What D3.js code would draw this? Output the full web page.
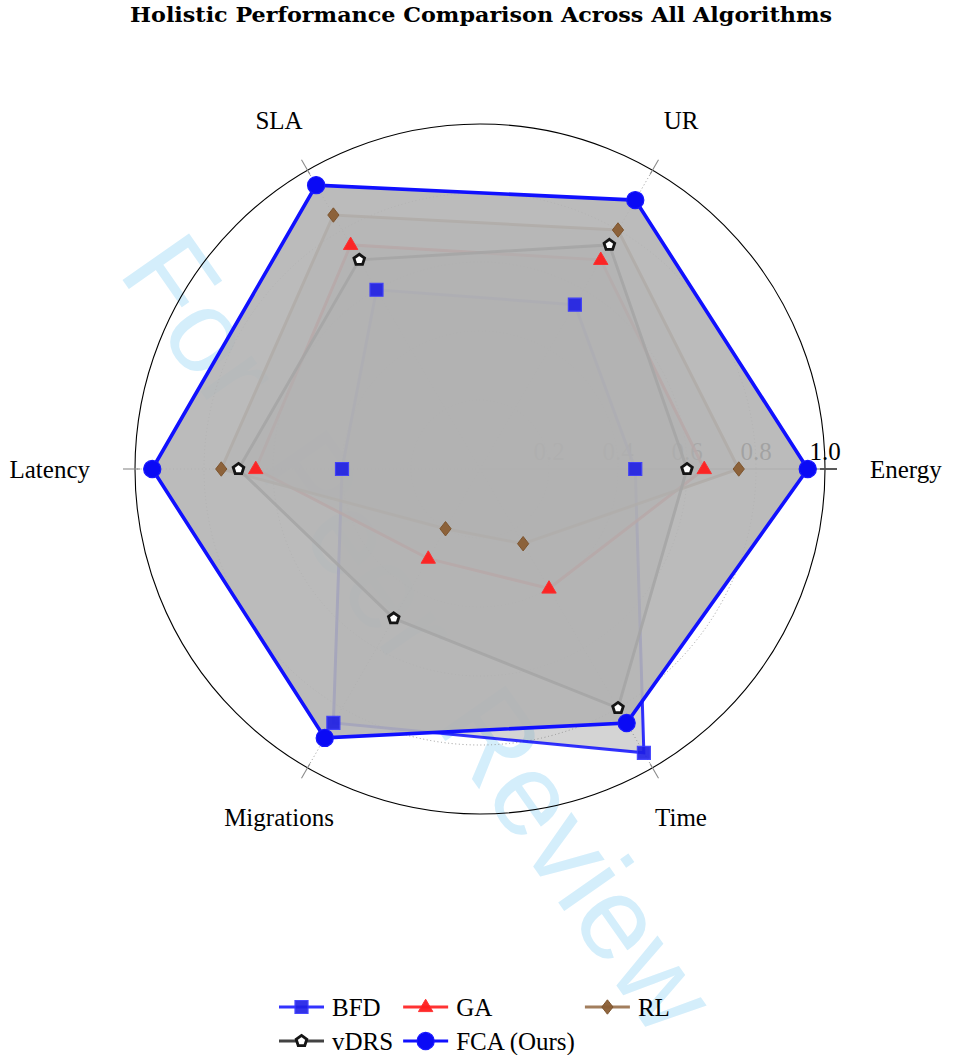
<!DOCTYPE html>
<html>
<head>
<meta charset="utf-8">
<script src="https://cdn.jsdelivr.net/npm/d3@7"></script>
<style>
  html, body { margin: 0; padding: 0; background: #ffffff; }
  svg { display: block; }
</style>
</head>
<body>
<svg id="chart" width="960" height="1055"></svg>
<script>
// ---- data ----
const axes = ["Energy", "UR", "SLA", "Latency", "Migrations", "Time"];
const seriesNames = ["BFD", "GA", "RL", "vDRS", "FCA (Ours)"];
const bfdValues  = [0.45, 0.55, 0.60, 0.40, 0.85, 0.95];
const gaValues   = [0.65, 0.70, 0.75, 0.65, 0.30, 0.40];
const rlValues   = [0.75, 0.80, 0.85, 0.75, 0.20, 0.25];
const vdrsValues = [0.60, 0.75, 0.70, 0.70, 0.50, 0.80];
const fcaValues  = [0.95, 0.90, 0.95, 0.95, 0.90, 0.85];
const radialTicks = [0.2, 0.4, 0.6, 0.8, 1.0];
const radialTickLabels = ["0.2", "0.4", "0.6", "0.8", "1.0"];
const titleText = "Holistic Performance Comparison Across All Algorithms";
const watermarkText = "For Peer Review";

const seriesValues = [bfdValues, gaValues, rlValues, vdrsValues, fcaValues];

// ---- styles ----
const styles = [
  { stroke: "#0000ff", strokeOpacity: 0.8, width: 3,   fill: "#939393", fillOpacity: 0.4, marker: "square",   mFill: "#1e1ee6", mStroke: "#3535ff", mStrokeW: 1.2, mOpacity: 0.9 },
  { stroke: "#ff0000", strokeOpacity: 0.8, width: 3,   fill: "#939393", fillOpacity: 0.4, marker: "triangle", mFill: "#ff1e1e", mStroke: "#ff2a2a", mStrokeW: 1,   mOpacity: 0.95 },
  { stroke: "#8b5e34", strokeOpacity: 0.8, width: 3,   fill: "#939393", fillOpacity: 0.4, marker: "diamond",  mFill: "#8b5e34", mStroke: "#7a5028", mStrokeW: 1,   mOpacity: 0.95 },
  { stroke: "#222222", strokeOpacity: 0.85, width: 3,  fill: "#939393", fillOpacity: 0.4, marker: "pentagon", mFill: "#ffffff", mStroke: "#151515", mStrokeW: 2.8, mOpacity: 1 },
  { stroke: "#1010ff", strokeOpacity: 1,   width: 3.6, fill: "#b4b4b4", fillOpacity: 0.9, marker: "circle",   mFill: "#0a0af5", mStroke: "#1818ff", mStrokeW: 1.2, mOpacity: 1 }
];

const W = 960, H = 1055;
const cx = 480, cy = 469;
const serif = "'Liberation Serif', 'Times New Roman', serif";

const svg = d3.select("#chart");

// radial and angular scales
const r = d3.scaleLinear().domain([0, 1]).range([0, 345]);
const angle = d3.scaleLinear().domain([0, axes.length]).range([Math.PI / 2, Math.PI / 2 - 2 * Math.PI]);

// ---- watermark (bottom layer) ----
svg.append("text")
  .attr("transform", "translate(117,272) rotate(55)")
  .attr("font-family", "'Liberation Sans', Arial, sans-serif")
  .attr("font-size", 118)
  .attr("word-spacing", 30)
  .attr("fill", "#d4eefb")
  .text(watermarkText);

// ---- title ----
svg.append("text")
  .attr("x", 481).attr("y", 22)
  .attr("text-anchor", "middle")
  .attr("font-family", "'DejaVu Serif', serif")
  .attr("font-weight", "bold")
  .attr("font-size", 20)
  .attr("textLength", 702)
  .attr("lengthAdjust", "spacingAndGlyphs")
  .attr("fill", "#000")
  .text(titleText);

const g = svg.append("g").attr("transform", `translate(${cx},${cy})`);

// ---- grid ----
const grid = g.append("g");
radialTicks.filter(t => t < 1).forEach(t => {
  grid.append("circle").attr("r", r(t))
    .attr("fill", "none").attr("stroke", "#9a9a9a").attr("stroke-width", 1)
    .attr("stroke-dasharray", "1,2.6");
});
axes.forEach((a, i) => {
  if (i === 0) return;
  const p = d3.pointRadial(angle(i), r(1));
  grid.append("line").attr("x1", 0).attr("y1", 0).attr("x2", p[0]).attr("y2", p[1])
    .attr("stroke", "#9a9a9a").attr("stroke-width", 1).attr("stroke-dasharray", "1,2.6");
});
// outer boundary
grid.append("circle").attr("r", r(1))
  .attr("fill", "none").attr("stroke", "#000").attr("stroke-width", 1.1);
// radial axis along the Energy direction
{
  const pEnd = d3.pointRadial(angle(0), r(1) + 12);
  grid.append("line").attr("x1", 0).attr("y1", 0).attr("x2", pEnd[0]).attr("y2", pEnd[1])
    .attr("stroke", "#9a9a9a").attr("stroke-width", 1.3);
}
// tick marks at each axis, crossing the outer circle
axes.forEach((a, i) => {
  const p0 = d3.pointRadial(angle(i), r(1) - 5);
  const p1 = d3.pointRadial(angle(i), r(1) + 12);
  grid.append("line").attr("x1", p0[0]).attr("y1", p0[1]).attr("x2", p1[0]).attr("y2", p1[1])
    .attr("stroke", i === 0 ? "#333" : "#8a8a8a").attr("stroke-width", i === 0 ? 1.4 : 1.1);
});

// radial tick labels
radialTicks.forEach((t, k) => {
  const p = d3.pointRadial(angle(0), r(t));
  g.append("text")
    .attr("x", p[0]).attr("y", p[1] - 9)
    .attr("text-anchor", "middle")
    .attr("font-family", serif).attr("font-size", 25)
    .attr("fill", "#000")
    .text(radialTickLabels[k]);
});

// axis labels
axes.forEach((name, i) => {
  const a = angle(i);
  const horiz = Math.abs(Math.sin(a)) > 0.99;
  const p = d3.pointRadial(a, horiz ? 390 : 402);
  g.append("text")
    .attr("x", p[0]).attr("y", p[1])
    .attr("dy", "0.34em")
    .attr("text-anchor", horiz ? (Math.sin(a) > 0 ? "start" : "end") : "middle")
    .attr("font-family", serif).attr("font-size", 25)
    .attr("fill", "#000")
    .text(name);
});

// ---- series polygons ----
const radar = d3.lineRadial()
  .angle((d, i) => angle(i))
  .radius(d => r(d))
  .curve(d3.curveLinearClosed);

seriesValues.forEach((vals, s) => {
  const st = styles[s];
  g.append("path")
    .attr("d", radar(vals))
    .attr("fill", st.fill).attr("fill-opacity", st.fillOpacity)
    .attr("stroke", "none");
  g.append("path")
    .attr("d", radar(vals))
    .attr("fill", "none")
    .attr("stroke", st.stroke).attr("stroke-opacity", st.strokeOpacity)
    .attr("stroke-width", st.width).attr("stroke-linejoin", "miter");
});

// ---- marker shapes ----
function markerPath(type) {
  const p = d3.path();
  if (type === "square") {
    p.rect(-6.5, -6.5, 13, 13);
  } else if (type === "triangle") {
    p.moveTo(0, -7.8); p.lineTo(7.2, 4.6); p.lineTo(-7.2, 4.6); p.closePath();
  } else if (type === "diamond") {
    p.moveTo(0, -7.2); p.lineTo(5.6, 0); p.lineTo(0, 7.2); p.lineTo(-5.6, 0); p.closePath();
  } else if (type === "pentagon") {
    for (let k = 0; k < 5; k++) {
      const a = -Math.PI / 2 + k * 2 * Math.PI / 5;
      const x = 5.6 * Math.cos(a), y = 5.6 * Math.sin(a);
      if (k === 0) p.moveTo(x, y); else p.lineTo(x, y);
    }
    p.closePath();
  } else {
    p.arc(0, 0, 8.6, 0, 2 * Math.PI);
  }
  return p.toString();
}

function drawMarker(sel, st) {
  return sel.append("path")
    .attr("d", markerPath(st.marker))
    .attr("fill", st.mFill).attr("stroke", st.mStroke)
    .attr("stroke-width", st.mStrokeW).attr("stroke-linejoin", "miter")
    .attr("opacity", st.mOpacity);
}

seriesValues.forEach((vals, s) => {
  const st = styles[s];
  vals.forEach((v, i) => {
    const p = d3.pointRadial(angle(i), r(v));
    const m = g.append("g").attr("transform", `translate(${p[0]},${p[1]})`);
    drawMarker(m, st);
  });
});

// ---- legend ----
const legend = svg.append("g");
const legendCols = 3;
const lineLen = 45, textGap = 8, colGap = 10;
const legendX0 = 279, rowY = [1007, 1041];
const items = seriesNames.map((name, s) => {
  const t = legend.append("text")
    .attr("font-family", serif).attr("font-size", 25)
    .attr("dy", "0.34em").attr("fill", "#000")
    .text(name);
  return { name, s, t, w: t.node().getComputedTextLength(), col: s % legendCols, row: Math.floor(s / legendCols) };
});
const colX = [];
let xAcc = legendX0;
for (let c = 0; c < legendCols; c++) {
  colX.push(xAcc);
  const maxW = d3.max(items.filter(d => d.col === c), d => d.w);
  xAcc += lineLen + textGap + maxW + colGap;
}
items.forEach(d => {
  const st = styles[d.s];
  const x = colX[d.col], y = rowY[d.row];
  legend.append("line").attr("x1", x).attr("y1", y).attr("x2", x + lineLen).attr("y2", y)
    .attr("stroke", st.stroke).attr("stroke-opacity", st.strokeOpacity).attr("stroke-width", 3);
  const m = legend.append("g").attr("transform", `translate(${x + lineLen / 2},${y})`);
  drawMarker(m, st);
  d.t.attr("x", x + lineLen + textGap).attr("y", y);
});
</script>
</body>
</html>
